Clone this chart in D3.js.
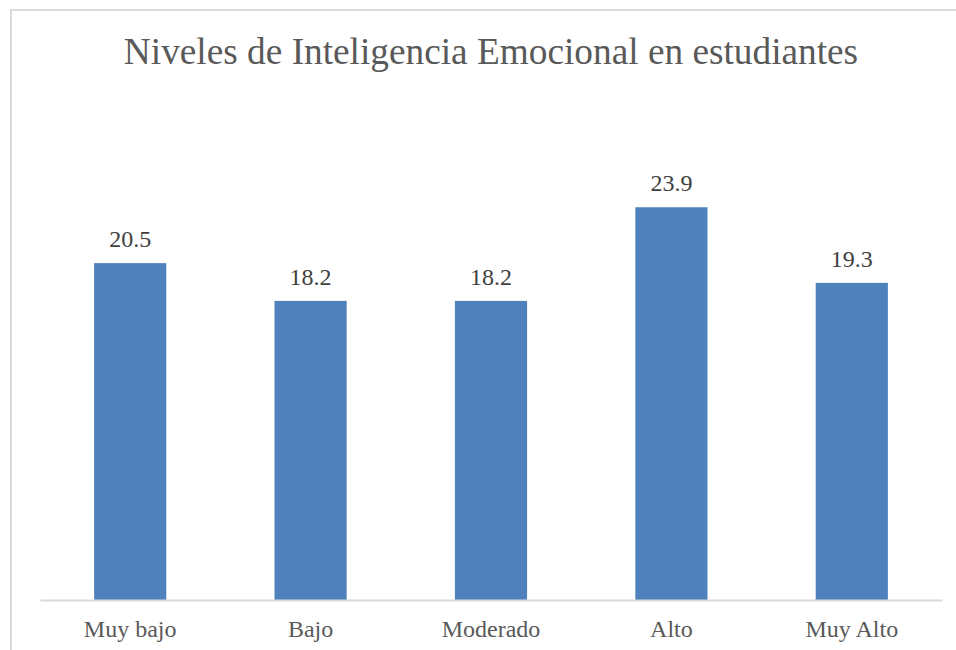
<!DOCTYPE html>
<html>
<head>
<meta charset="utf-8">
<script src="https://cdn.jsdelivr.net/npm/d3@7"></script>
<style>
  body { margin: 0; background: #fff; }
  svg { display: block; }
  text { font-family: "Liberation Serif", "Times New Roman", serif; }
</style>
</head>
<body>
<div id="chart"></div>
<script>
// Chart data
const title = 'Niveles de Inteligencia Emocional en estudiantes';
const categories = ['Muy bajo', 'Bajo', 'Moderado', 'Alto', 'Muy Alto'];
const values = [20.5, 18.2, 18.2, 23.9, 19.3];
const yDomain = [0, 30];

const W = 956, H = 650;
const plot = { left: 40, right: 942, top: 107, bottom: 600 };

const svg = d3.select('#chart')
  .append('svg')
  .attr('width', W)
  .attr('height', H);

// Frame (only top and left edges show in the crop)
svg.append('path')
  .attr('d', `M11,${H} L11,10 L${W},10`)
  .attr('fill', 'none')
  .attr('stroke', '#d9d9d9')
  .attr('stroke-width', 2);

// Title
svg.append('text')
  .attr('x', (plot.left + plot.right) / 2)
  .attr('y', 64)
  .attr('text-anchor', 'middle')
  .attr('font-size', 37.3)
  .attr('fill', '#595959')
  .text(title);

// Scales
const x = d3.scaleBand()
  .domain(categories)
  .range([plot.left, plot.right])
  .paddingInner(0.6)
  .paddingOuter(0.3);

const y = d3.scaleLinear()
  .domain(yDomain)
  .range([plot.bottom, plot.top]);

// Bars
const data = categories.map((c, i) => ({ cat: c, val: values[i] }));

svg.selectAll('rect.bar')
  .data(data)
  .enter()
  .append('rect')
  .attr('class', 'bar')
  .attr('x', (d) => x(d.cat))
  .attr('y', (d) => y(d.val))
  .attr('width', x.bandwidth())
  .attr('height', (d) => y(0) - y(d.val))
  .attr('fill', '#4f81bd');

// Data labels
svg.selectAll('text.val')
  .data(data)
  .enter()
  .append('text')
  .attr('class', 'val')
  .attr('x', (d) => x(d.cat) + x.bandwidth() / 2)
  .attr('y', (d) => y(d.val) - 16)
  .attr('text-anchor', 'middle')
  .attr('font-size', 24)
  .attr('fill', '#404040')
  .text((d) => d.val.toFixed(1));

// X axis
const xAxis = svg.append('g')
  .attr('transform', `translate(0,${plot.bottom})`)
  .call(d3.axisBottom(x).tickSize(0).tickPadding(20));

xAxis.select('.domain')
  .attr('stroke', '#d9d9d9')
  .attr('stroke-width', 2);

xAxis.selectAll('text')
  .attr('font-family', null)
  .attr('font-size', 24)
  .attr('fill', '#595959');
xAxis.attr('font-family', null);
</script>
</body>
</html>
